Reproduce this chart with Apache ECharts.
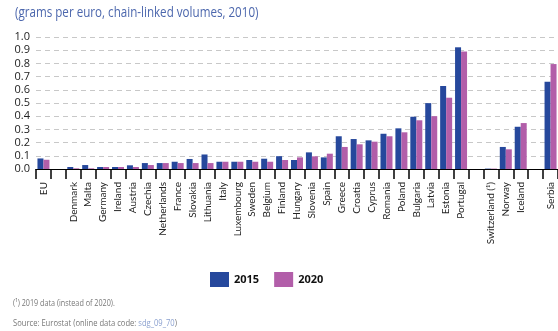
<!DOCTYPE html>
<html>
<head>
<meta charset="utf-8">
<script src="https://cdn.jsdelivr.net/npm/echarts@6/dist/echarts.min.js"></script>
<style>
  html, body { margin: 0; padding: 0; background: #fff; }
  #main { width: 558px; height: 331px; }
</style>
</head>
<body>
<div id="main"></div>
<script>
// categories (empty slots are the gaps between country groups)
const countries = ['EU', ' ', 'Denmark', 'Malta', 'Germany', 'Ireland', 'Austria', 'Czechia',
  'Netherlands', 'France', 'Slovakia', 'Lithuania', 'Italy', 'Luxembourg', 'Sweden', 'Belgium',
  'Finland', 'Hungary', 'Slovenia', 'Spain', 'Greece', 'Croatia', 'Cyprus', 'Romania', 'Poland',
  'Bulgaria', 'Latvia', 'Estonia', 'Portugal', '  ', 'Switzerland (\u00b9)', 'Norway', 'Iceland',
  '   ', 'Serbia'];

const values2015 = [0.08, null, 0.015, 0.03, 0.015, 0.015, 0.028, 0.045,
  0.045, 0.055, 0.076, 0.11, 0.055, 0.055, 0.068, 0.078,
  0.097, 0.068, 0.126, 0.088, 0.248, 0.227, 0.217, 0.267, 0.308,
  0.396, 0.499, 0.629, 0.922, null, 0.003, 0.167, 0.32,
  null, 0.661];

const values2020 = [0.07, null, 0.005, 0.005, 0.015, 0.015, 0.015, 0.03,
  0.045, 0.045, 0.045, 0.045, 0.055, 0.055, 0.055, 0.055,
  0.068, 0.088, 0.096, 0.116, 0.167, 0.187, 0.207, 0.248, 0.278,
  0.369, 0.40, 0.54, 0.89, null, 0.003, 0.149, 0.348,
  null, 0.795];

const seriesNames = ['2015', '2020'];
const colors = ['#26489c', '#b25ea9'];

let chart = echarts.init(document.getElementById('main'));

chart.setOption({
    animation: false,
    textStyle: { fontFamily: 'Open Sans' },
    grid: { left: 36, right: -1, top: 37, bottom: 162 },
    legend: {
        data: seriesNames,
        left: 205,
        top: 267,
        itemWidth: 19,
        itemHeight: 15,
        itemGap: 15,
        icon: 'rect',
        textStyle: { fontSize: 11, fontWeight: 'bold', color: '#111', fontFamily: 'Open Sans' }
    },
    xAxis: {
        type: 'category',
        data: countries,
        axisLine: { lineStyle: { color: '#000', width: 1 } },
        axisTick: { show: true, interval: 0, length: 10, lineStyle: { color: '#000', width: 1.5 } },
        axisLabel: { interval: 0, rotate: 90, fontSize: 10, color: '#222', margin: 13, fontFamily: 'Lato' }
    },
    yAxis: {
        type: 'value',
        min: 0,
        max: 1,
        interval: 0.1,
        axisLine: { show: false },
        axisTick: { show: false },
        axisLabel: { fontSize: 11, color: '#222', margin: 6, formatter: v => v.toFixed(1) },
        splitLine: { lineStyle: { color: '#c8c8c8', type: [5, 4], width: 1 } }
    },
    series: seriesNames.map((name, i) => ({
        name: name,
        type: 'bar',
        data: i === 0 ? values2015 : values2020,
        barWidth: 6,
        barGap: '0%',
        itemStyle: { color: colors[i] }
    })),
    graphic: [
        {
            // subtitle, squeezed to the condensed width of the original
            type: 'text', x: 15, y: 6, scaleX: 0.83,
            style: { text: '(grams per euro, chain-linked volumes, 2010)', fontSize: 14, fill: '#4c67ad', fontFamily: 'Open Sans' }
        },
        {
            type: 'text', x: 13, y: 298, scaleX: 0.76,
            style: { text: '(\u00b9) 2019 data (instead of 2020).', fontSize: 9.5, fill: '#777', fontFamily: 'Open Sans' }
        },
        {
            type: 'text', x: 13, y: 318, scaleX: 0.8,
            style: {
                text: '{a|Source: Eurostat (online data code: }{b|sdg_09_70}{a|)}',
                rich: {
                    a: { fontSize: 9.5, fill: '#777', fontFamily: 'Open Sans' },
                    b: { fontSize: 9.5, fill: '#8aa0cf', fontFamily: 'Open Sans' }
                }
            }
        }
    ]
});
</script>
</body>
</html>
